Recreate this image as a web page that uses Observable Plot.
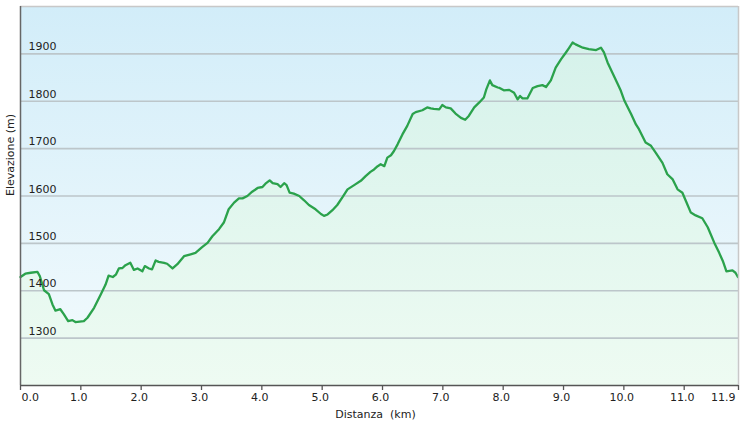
<!DOCTYPE html>
<html>
<head>
<meta charset="utf-8">
<script src="https://cdn.jsdelivr.net/npm/d3@7"></script>
<script src="https://cdn.jsdelivr.net/npm/@observablehq/plot@0.6"></script>
<style>
  html, body { margin: 0; padding: 0; background: #ffffff; }
  #chart svg { display: block; font-family: "DejaVu Sans", Verdana, sans-serif; white-space: pre; }
</style>
</head>
<body>
<div id="chart"></div>
<script>
// Distance (km)
const distanceKm = [
  0.00, 0.08, 0.17, 0.28, 0.32, 0.39, 0.47, 0.53, 0.58, 0.66, 0.72, 0.79, 0.86, 0.91,
  1.05, 1.11, 1.22, 1.33, 1.41, 1.46, 1.53, 1.58, 1.63, 1.69, 1.74, 1.82, 1.88, 1.94,
  2.02, 2.06, 2.13, 2.18, 2.24, 2.29, 2.38, 2.43, 2.52, 2.60, 2.71, 2.82, 2.90,
  3.01, 3.10, 3.18, 3.29, 3.37, 3.45, 3.54, 3.62, 3.68, 3.76, 3.84, 3.93,
  4.01, 4.06, 4.13, 4.18, 4.26, 4.31, 4.37, 4.41, 4.46, 4.53, 4.62, 4.70, 4.78, 4.89, 4.98,
  5.03, 5.09, 5.17, 5.25, 5.34, 5.42, 5.53, 5.64, 5.72, 5.80, 5.86, 5.92, 5.97,
  6.03, 6.08, 6.14, 6.19, 6.25, 6.33, 6.41, 6.50, 6.55, 6.66, 6.74, 6.80, 6.85, 6.94, 6.99,
  7.05, 7.13, 7.21, 7.30, 7.37, 7.43, 7.52, 7.60, 7.68, 7.72, 7.78, 7.82, 7.91, 7.94,
  8.01, 8.10, 8.18, 8.24, 8.28, 8.32, 8.40, 8.49, 8.57, 8.65, 8.71, 8.79, 8.87, 8.96,
  9.04, 9.09, 9.15, 9.20, 9.32, 9.42, 9.54, 9.62, 9.67, 9.73, 9.81, 9.90, 9.95,
  10.01, 10.12, 10.20, 10.25, 10.36, 10.45, 10.53, 10.64, 10.72, 10.81, 10.89, 10.97,
  11.03, 11.11, 11.19, 11.30, 11.39, 11.50, 11.58, 11.64, 11.70, 11.80, 11.85, 11.89
];
// Elevation (m)
const elevationM = [
  1429, 1436, 1438, 1440, 1431, 1401, 1393, 1371, 1358, 1361, 1350, 1336, 1338, 1334,
  1336, 1343, 1364, 1392, 1413, 1432, 1429, 1434, 1447, 1448, 1454, 1459, 1444, 1447,
  1441, 1452, 1447, 1445, 1464, 1461, 1459, 1457, 1447, 1456, 1473, 1477, 1480,
  1492, 1501, 1515, 1530, 1544, 1572, 1586, 1595, 1595, 1600, 1609, 1617,
  1619, 1626, 1633, 1627, 1625, 1619, 1627, 1623, 1607, 1605, 1600, 1591, 1581, 1572, 1562,
  1558, 1561, 1570, 1581, 1598, 1614, 1623, 1632, 1642, 1651, 1656, 1663, 1667,
  1663, 1681, 1686, 1695, 1709, 1730, 1748, 1773, 1777, 1781, 1787, 1785, 1784, 1783, 1792,
  1787, 1785, 1774, 1765, 1761, 1769, 1787, 1797, 1808, 1825, 1844, 1834, 1829, 1828,
  1823, 1824, 1818, 1804, 1811, 1806, 1806, 1828, 1832, 1834, 1830, 1844, 1871, 1889,
  1903, 1912, 1924, 1920, 1913, 1910, 1908, 1913, 1903, 1882, 1860, 1836, 1822,
  1801, 1773, 1751, 1741, 1713, 1706, 1691, 1670, 1646, 1635, 1614, 1607,
  1589, 1565, 1559, 1553, 1534, 1501, 1480, 1463, 1441, 1443, 1438, 1429
];
// Axis ticks
const xTicks = [0, 1, 2, 3, 4, 5, 6, 7, 8, 9, 10, 11, 11.9];
const xTickLabels = ["0.0", "1.0", "2.0", "3.0", "4.0", "5.0", "6.0", "7.0", "8.0", "9.0", "10.0", "11.0", "11.9"];
const yTicks = [1300, 1400, 1500, 1600, 1700, 1800, 1900];
const yTickLabels = ["1300", "1400", "1500", "1600", "1700", "1800", "1900"];
const xTitle = "Distanza  (km)";
const yTitle = "Elevazione (m)";

const data = distanceKm.map((d, i) => ({km: d, elev: elevationM[i]}));
const xLabelData = xTicks.map((d, i) => ({km: d, label: xTickLabels[i], i}));
const last = xTicks.length - 1;
const yMin = 1200, yMax = 2000, xMax = 11.9;

const plot = Plot.plot({
  width: 741,
  height: 425,
  marginLeft: 20,
  marginRight: 3,
  marginTop: 6,
  marginBottom: 40,
  style: {fontFamily: "'DejaVu Sans', Verdana, sans-serif", fontSize: "11px", color: "#222", background: "#ffffff"},
  x: {domain: [0, xMax], axis: null},
  y: {domain: [yMin, yMax], axis: null},
  marks: [
    Plot.frame({fill: "url(#bgGrad)", stroke: null}),
    Plot.areaY(data, {x: "km", y1: yMin, y2: "elev", fill: "url(#areaGrad)", curve: "linear"}),
    Plot.ruleY(yTicks, {stroke: "#bcc6ca", strokeWidth: 1.6}),
    Plot.lineY(data, {x: "km", y: "elev", stroke: "#2ba24c", strokeWidth: 2.3, curve: "linear"}),
    Plot.ruleY([yMax], {stroke: "#c8c8c8", strokeWidth: 1.5}),
    Plot.ruleX([xMax], {stroke: "#c8c8c8", strokeWidth: 1.5}),
    Plot.ruleX([0], {stroke: "#666", strokeWidth: 1.5}),
    Plot.ruleY([yMin], {stroke: "#555", strokeWidth: 1.5}),
    Plot.ruleX(xTicks, {x: d => d, y1: yMin, y2: yMin, stroke: "#555", strokeWidth: 1.3, insetTop: 0, insetBottom: -5}),
    Plot.text(xLabelData.filter(d => d.i > 0 && d.i < last), {x: "km", text: "label", frameAnchor: "bottom", dy: 15, dx: -2, fontSize: 11, fill: "#222"}),
    Plot.text(xLabelData.filter(d => d.i === 0), {x: "km", text: "label", frameAnchor: "bottom", dy: 15, dx: 1, textAnchor: "start", fontSize: 11, fill: "#222"}),
    Plot.text(xLabelData.filter(d => d.i === last), {x: "km", text: "label", frameAnchor: "bottom", dy: 15, dx: -3, textAnchor: "end", fontSize: 11, fill: "#222"}),
    Plot.text(yTicks, {x: 0, y: d => d, text: (d, i) => yTickLabels[i], dx: 8, dy: -7, textAnchor: "start", fontSize: 11, fill: "#222"}),
    Plot.text([xTitle], {frameAnchor: "bottom", dy: 32, dx: -4, fontSize: 11, fill: "#222"}),
    Plot.text([yTitle], {frameAnchor: "left", dx: -10, rotate: -90, fontSize: 11, fill: "#222"})
  ]
});

const svg = d3.select(plot);
const defs = svg.insert("defs", ":first-child");
const bg = defs.append("linearGradient").attr("id", "bgGrad").attr("x1", 0).attr("y1", 0).attr("x2", 0).attr("y2", 1);
bg.append("stop").attr("offset", "0%").attr("stop-color", "#d2edf9");
bg.append("stop").attr("offset", "100%").attr("stop-color", "#f4fbfd");
const ag = defs.append("linearGradient").attr("id", "areaGrad").attr("gradientUnits", "userSpaceOnUse")
  .attr("x1", 0).attr("y1", 6).attr("x2", 0).attr("y2", 385);
ag.append("stop").attr("offset", "0%").attr("stop-color", "#d3f1ea");
ag.append("stop").attr("offset", "100%").attr("stop-color", "#eefbf2");

document.getElementById("chart").appendChild(plot);
</script>
</body>
</html>
